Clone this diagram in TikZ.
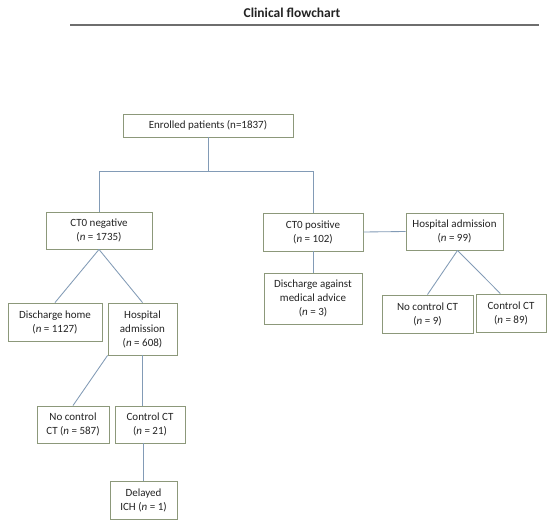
\documentclass[tikz,border=0pt]{standalone}
\usepackage{fontspec}
\setmainfont{Carlito}
\usetikzlibrary{calc}
\definecolor{boxc}{RGB}{140,152,122}
\definecolor{connc}{RGB}{130,155,182}
\definecolor{rulec}{RGB}{110,110,110}
\definecolor{txt}{RGB}{35,35,35}
\tikzset{
  box/.style={draw=boxc, line width=0.9pt, fill=white, align=center, inner sep=0pt,
    font=\fontsize{11}{14}\selectfont, text=txt},
  conn/.style={draw=connc, line width=0.85pt},
}
\begin{document}
\begin{tikzpicture}[x=1pt,y=-1pt]
\useasboundingbox[fill=white] (0,0) rectangle (550,527);
\node[font=\fontsize{13.5}{16}\selectfont\bfseries, text=txt] (title) at (292,13) {Clinical flowchart};
\coordinate (rl) at (70,25.5);
\coordinate (rr) at (539,25.5);
\draw[rulec, line width=2pt] (rl) -- (rr);

\node[box, minimum width=170, minimum height=23] (enr) at (208,125.5) {Enrolled patients (n=1837)};
\node[box, minimum width=106, minimum height=37] (neg) at (99,230.5) {CT0 negative\\(\textit{n} = 1735)};
\node[box, minimum width=100, minimum height=38] (pos) at (313,232) {CT0 positive\\(\textit{n} = 102)};
\node[box, minimum width=97, minimum height=37] (had) at (454.5,231.5) {Hospital admission\\(\textit{n} = 99)};
\node[box, minimum width=98, minimum height=51] (dam) at (313,298.5) {Discharge against\\medical advice\\(\textit{n} = 3)};
\node[box, minimum width=91, minimum height=38] (nc9) at (427.5,314) {No control CT\\(\textit{n} = 9)};
\node[box, minimum width=70, minimum height=38] (c89) at (511,313) {Control CT\\(\textit{n} = 89)};
\node[box, minimum width=94, minimum height=38] (dh) at (55,322) {Discharge home\\(\textit{n} = 1127)};
\node[box, minimum width=69, minimum height=52] (ha) at (142.5,329) {Hospital\\admission\\(\textit{n} = 608)};
\node[box, minimum width=72, minimum height=37] (nc587) at (73,424.5) {No control\\CT (\textit{n} = 587)};
\node[box, minimum width=70, minimum height=37] (c21) at (150,424.5) {Control CT\\(\textit{n} = 21)};
\node[box, minimum width=67, minimum height=38] (dich) at (143.5,500) {Delayed\\ICH (\textit{n} = 1)};

\draw[conn] (enr.south) -- ++(0,35);
\draw[conn] (neg.north) -- ++(0,-40) -| (pos.north);
\draw[conn] (pos.east) -- (had.west);
\draw[conn] (pos.south) -- (dam.north);
\draw[conn] ($(had.south)+(3,0)$) -- (nc9.north);
\draw[conn] ($(had.south)+(3,0)$) -- ($(c89.north west)!0.35!(c89.north east)$);
\draw[conn] (neg.south) -- (dh.north);
\draw[conn] (neg.south) -- (ha.north);
\draw[conn] (ha.south west) -- (nc587.north);
\draw[conn] (ha.south) -- (ha.south |- c21.north);
\draw[conn] (dich.north |- c21.south) -- (dich.north);
\end{tikzpicture}
\end{document}
